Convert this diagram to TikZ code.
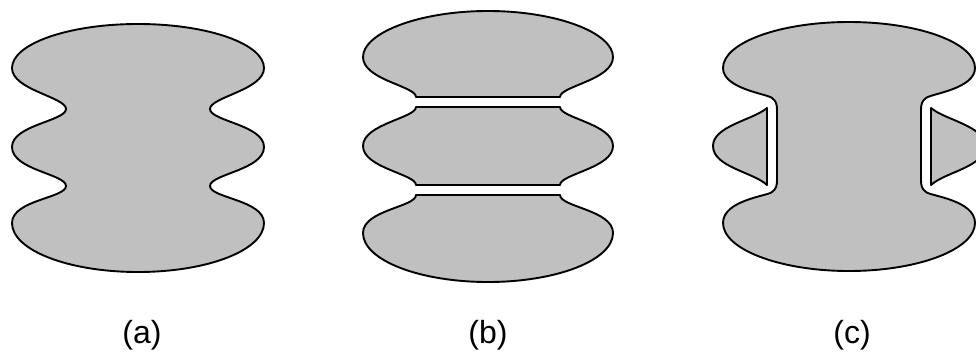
\documentclass[tikz,border=0pt]{standalone}
\usepackage{fontspec}
\setmainfont{Liberation Sans}
\usetikzlibrary{positioning}
\definecolor{lobegray}{RGB}{192,192,192}

\begin{document}
\begin{tikzpicture}[
  x=1pt, y=-1pt,
  blob/.style={draw=black, fill=lobegray, line width=1.9pt, line join=round},
  caption/.style={font=\fontsize{32}{38}\selectfont, inner sep=0pt}
]
  \useasboundingbox (0,0) rectangle (976,356);
  \clip (0,0) rectangle (976,356);

  % (a) one body with two waists
  \begin{scope}[shift={(138,0)}]
    \path[blob] (0,24) .. controls (70,24) and (126,44) .. (126,68)
      .. controls (126,90) and (72,97) .. (72,109)
      .. controls (72,121) and (126,125) .. (126,147)
      .. controls (126,170) and (72,174) .. (72,186)
      .. controls (72,198) and (126,200) .. (126,223)
      .. controls (126,250) and (70,272) .. (0,272)
      .. controls (-70,272) and (-126,250) .. (-126,223)
      .. controls (-126,200) and (-72,198) .. (-72,186)
      .. controls (-72,174) and (-126,170) .. (-126,147)
      .. controls (-126,125) and (-72,121) .. (-72,109)
      .. controls (-72,97) and (-126,90) .. (-126,68)
      .. controls (-126,44) and (-70,24) .. (0,24) -- cycle;
  \end{scope}

  % (b) cut at the waists
  \begin{scope}[shift={(488,0)}]
    \path[blob] (0,11) .. controls (69,11) and (125,33) .. (125,57)
      .. controls (125,80) and (72,86) .. (72,97)
      -- (-72,97)
      .. controls (-72,86) and (-125,80) .. (-125,57)
      .. controls (-125,33) and (-69,11) .. (0,11) -- cycle;
    \path[blob] (72,107) .. controls (72,118) and (125,124) .. (125,146)
      .. controls (125,168) and (72,174) .. (72,185)
      -- (-72,185)
      .. controls (-72,174) and (-125,168) .. (-125,146)
      .. controls (-125,124) and (-72,118) .. (-72,107) -- cycle;
    \path[blob] (72,195) .. controls (72,207) and (125,210) .. (125,233)
      .. controls (125,260) and (69,282) .. (0,282)
      .. controls (-69,282) and (-125,260) .. (-125,233)
      .. controls (-125,210) and (-72,207) .. (-72,195) -- cycle;
  \end{scope}

  % (c) cut along the sides
  \begin{scope}[shift={(849,0)}]
    \path[blob] (0,22) .. controls (70,22) and (126,43) .. (126,68)
      .. controls (126,89) and (81,94) .. (77,98)
      .. controls (73,101) and (72,104) .. (72,110)
      -- (72,180)
      .. controls (72,186) and (73,189) .. (77,192)
      .. controls (81,196) and (126,200) .. (126,223)
      .. controls (126,249) and (70,271) .. (0,271)
      .. controls (-70,271) and (-126,249) .. (-126,223)
      .. controls (-126,200) and (-81,196) .. (-77,192)
      .. controls (-73,189) and (-72,186) .. (-72,180)
      -- (-72,110)
      .. controls (-72,104) and (-73,101) .. (-77,98)
      .. controls (-81,94) and (-126,89) .. (-126,68)
      .. controls (-126,43) and (-70,22) .. (0,22) -- cycle;
    \path[blob] (-82,108) -- (-82,185)
      .. controls (-96,172) and (-136,167) .. (-136,146)
      .. controls (-136,126) and (-96,120) .. (-82,108) -- cycle;
    \path[blob] (82,108) -- (82,185)
      .. controls (96,172) and (136,167) .. (136,146)
      .. controls (136,126) and (96,120) .. (82,108) -- cycle;
  \end{scope}

  % captions
  \node[caption] (capa) at (142,335) {(a)};
  \node[caption] (capb) at (488,335) {(b)};
  \node[caption] (capc) at (852,335) {(c)};
\end{tikzpicture}
\end{document}
